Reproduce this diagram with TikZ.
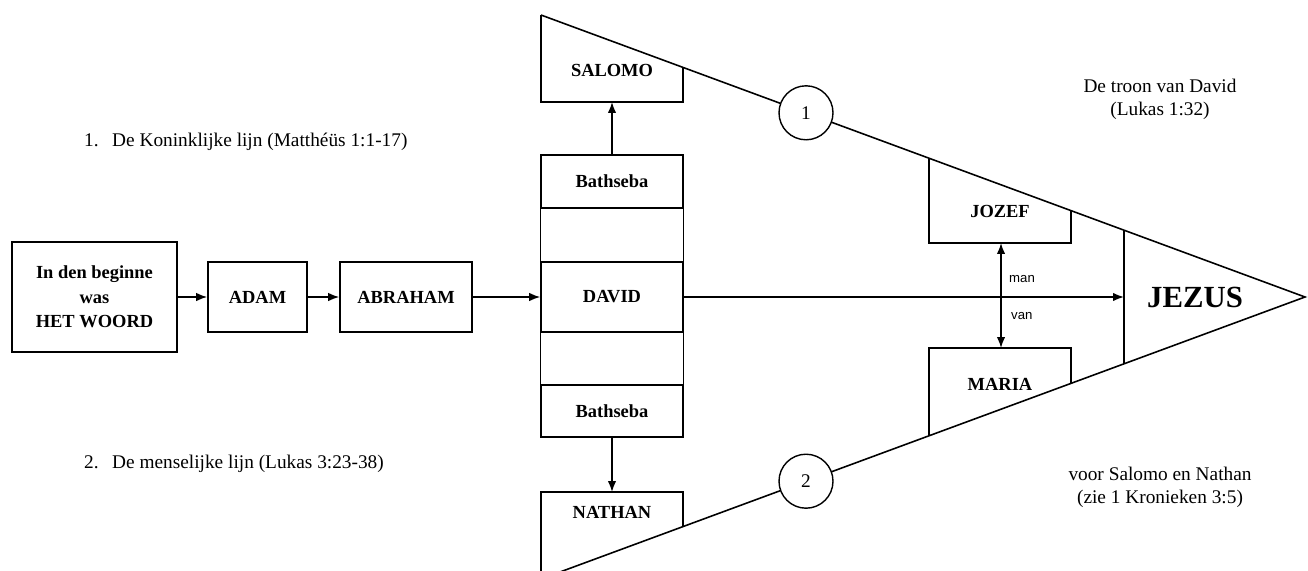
\documentclass[tikz,border=0pt]{standalone}
\usepackage{fontspec}
\setmainfont{Liberation Serif}
\newfontfamily\labelsans{Liberation Sans}
\usetikzlibrary{arrows.meta}

\tikzset{
  namebox/.style={draw, line width=0.9pt, align=center, inner sep=0pt,
    font=\fontsize{10.5}{14}\selectfont\bfseries},
  nametext/.style={font=\fontsize{10.5}{14}\selectfont\bfseries},
  note/.style={font=\fontsize{11}{13}\selectfont, align=center},
  outline/.style={line width=0.9pt},
  numcircle/.style={circle, draw, fill=white, line width=0.8pt, minimum size=1.08cm,
    inner sep=0pt, font=\fontsize{11}{13}\selectfont},
}

\begin{document}
\begin{tikzpicture}[x=0.02cm, y=-0.02cm, >={Latex[length=2.2mm,width=1.7mm]}]
    \useasboundingbox (0,0) rectangle (1308,571);
    \clip (0,0) rectangle (1308,571);

    % Chain up to David
    \node[namebox, minimum width=3.3cm, minimum height=2.2cm] (woord) at (94.5,297) {In den beginne\\was\\HET WOORD};
    \node[namebox, minimum width=1.98cm, minimum height=1.4cm] (adam) at (257.5,297) {ADAM};
    \node[namebox, minimum width=2.64cm, minimum height=1.4cm] (abraham) at (406,297) {ABRAHAM};
    \node[namebox, minimum width=2.84cm, minimum height=1.4cm] (david) at (612,297) {DAVID};
    \draw[outline, ->] (woord) -- (adam);
    \draw[outline, ->] (adam) -- (abraham);
    \draw[outline, ->] (abraham) -- (david);

    % Bathseba boxes
    \node[namebox, minimum width=2.84cm, minimum height=1.06cm] (bathup) at (612,181.5) {Bathseba};
    \node[namebox, minimum width=2.84cm, minimum height=1.04cm] (bathdown) at (612,411) {Bathseba};
    \draw[thin] (bathup.south west) -- (david.north west);
    \draw[thin] (bathup.south east) -- (david.north east);
    \draw[thin] (david.south west) -- (bathdown.north west);
    \draw[thin] (david.south east) -- (bathdown.north east);

    % Big triangle
    \coordinate (top) at (541,15);
    \coordinate (tip) at (1305,297);
    \coordinate (bot) at (541,579);
    \draw[outline] (top) -- (tip) -- (bot);

    % Salomo and Nathan
    \draw[outline] (top) -- (541,102) -- (683,102) -- (683,67.4);
    \draw[outline] (bot) -- (541,492) -- (683,492) -- (683,526.6);
    \node[nametext] (salomo) at (612,70) {SALOMO};
    \node[nametext] (nathan) at (612,512) {NATHAN};
    \coordinate (salomo-s) at (612,102);
    \coordinate (nathan-n) at (612,492);
    \draw[outline, ->] (bathup) -- (salomo-s);
    \draw[outline, ->] (bathdown) -- (nathan-n);

    % Jozef and Maria
    \draw[outline] (929,158.2) -- (929,243) -- (1071,243) -- (1071,210.6);
    \draw[outline] (929,435.8) -- (929,348) -- (1071,348) -- (1071,383.4);
    \node[nametext] (jozef) at (1000,211) {JOZEF};
    \node[nametext] (maria) at (1000,384) {MARIA};
    \coordinate (jozef-s) at (1001,243);
    \coordinate (maria-n) at (1001,348);
    \draw[outline, <->] (jozef-s) -- (maria-n);
    \node[font=\labelsans\fontsize{7.5}{9}\selectfont, anchor=west] (man) at (1003,279) {man};
    \node[font=\labelsans\fontsize{7.5}{9}\selectfont, anchor=west] (van) at (1005,316) {van};

    % Jezus
    \draw[outline] (1124,230.2) -- (1124,363.8);
    \coordinate (jezusbar) at (1124,297);
    \node[font=\fontsize{17.5}{20}\selectfont\bfseries] (jezus) at (1195,297) {JEZUS};
    \draw[outline, ->] (david) -- (jezusbar);

    % Line numbers
    \node[numcircle] (c1) at (806,112.8) {1};
    \node[numcircle] (c2) at (806,481.2) {2};

    % Notes
    \node[note, anchor=west] (royal) at (78,142) {1.\hspace{0.7em}De Koninklijke lijn (Matthéüs 1:1-17)};
    \node[note, anchor=west] (human) at (78,464) {2.\hspace{0.7em}De menselijke lijn (Lukas 3:23-38)};
    \node[note] (throne) at (1160,99) {De troon van David\\(Lukas 1:32)};
    \node[note] (sons) at (1160,487) {voor Salomo en Nathan\\(zie 1 Kronieken 3:5)};
\end{tikzpicture}
\end{document}
